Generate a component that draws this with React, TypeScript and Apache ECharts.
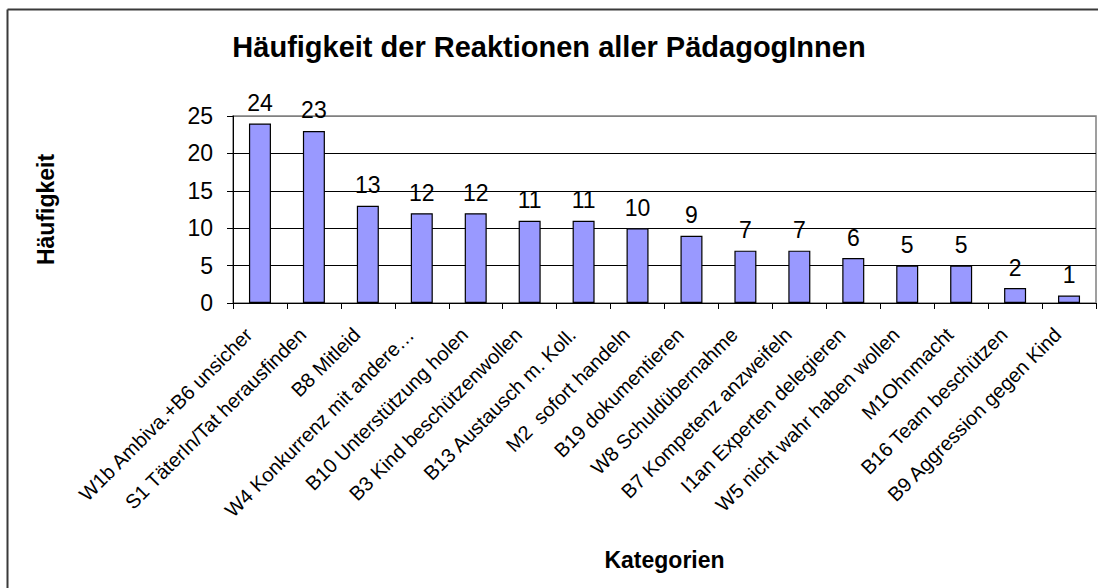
import React, { useEffect, useRef } from "react";
import * as echarts from "echarts";

const categories = [
  "W1b Ambiva.+B6 unsicher",
  "S1 TäterIn/Tat herausfinden",
  "B8 Mitleid",
  "W4 Konkurrenz mit andere…",
  "B10 Unterstützung holen",
  "B3 Kind beschützenwollen",
  "B13 Austausch m. Koll.",
  "M2  sofort handeln",
  "B19 dokumentieren",
  "W8 Schuldübernahme",
  "B7 Kompetenz anzweifeln",
  "I1an Experten delegieren",
  "W5 nicht wahr haben wollen",
  "M1Ohnmacht",
  "B16 Team beschützen",
  "B9 Aggression gegen Kind",
];

const values = [24, 23, 13, 12, 12, 11, 11, 10, 9, 7, 7, 6, 5, 5, 2, 1];

const yTicks = { min: 0, max: 25, interval: 5 };

const titleText = "Häufigkeit der Reaktionen aller PädagogInnen";
const yName = "Häufigkeit";
const xName = "Kategorien";

const FONT = "'Liberation Sans', Arial, sans-serif";

export default function App() {
  const ref = useRef<HTMLDivElement>(null);

  useEffect(() => {
    if (!ref.current) return;
    const chart = echarts.init(ref.current, undefined, { renderer: "svg" });
    chart.setOption({
      animation: false,
      backgroundColor: "#ffffff",
      textStyle: { fontFamily: FONT },
      title: {
        text: titleText,
        left: "center",
        top: 27,
        textStyle: { fontFamily: FONT, fontSize: 29, fontWeight: "bold", color: "#000" },
      },
      graphic: [
        {
          type: "line",
          shape: { x1: 7.5, y1: 9.5, x2: 1098, y2: 9.5 },
          style: { stroke: "#3a3a3a", lineWidth: 2 },
        },
        {
          type: "line",
          shape: { x1: 7.5, y1: 9.5, x2: 7.5, y2: 588 },
          style: { stroke: "#3a3a3a", lineWidth: 2 },
        },
      ],
      grid: {
        left: 233,
        right: 2,
        top: 116,
        bottom: 285,
        show: true,
        borderColor: "#808080",
        borderWidth: 1.5,
      },
      xAxis: {
        type: "category",
        data: categories,
        name: xName,
        nameLocation: "middle",
        nameGap: 245,
        nameTextStyle: { fontFamily: FONT, fontSize: 23, fontWeight: "bold", color: "#000" },
        axisLine: { lineStyle: { color: "#000", width: 1 } },
        axisTick: { show: true, length: 6, lineStyle: { color: "#000" } },
        axisLabel: {
          interval: 0,
          rotate: 45,
          margin: 17,
          padding: [0, 16, 0, 0],
          fontFamily: FONT,
          fontSize: 20,
          color: "#000",
        },
      },
      yAxis: {
        type: "value",
        min: yTicks.min,
        max: yTicks.max,
        interval: yTicks.interval,
        name: yName,
        nameLocation: "middle",
        nameRotate: 90,
        nameGap: 176,
        nameTextStyle: { fontFamily: FONT, fontSize: 23, fontWeight: "bold", color: "#000" },
        axisLine: { show: true, lineStyle: { color: "#000", width: 1 } },
        axisTick: { show: true, length: 6, lineStyle: { color: "#000" } },
        axisLabel: { margin: 20, fontFamily: FONT, fontSize: 23, color: "#000" },
        splitLine: {
          show: true,
          lineStyle: {
            color: ["#000", "#000", "#000", "#000", "#000", "#808080"],
            width: 1,
          },
        },
      },
      series: [
        {
          type: "bar",
          data: values,
          barWidth: 22,
          itemStyle: { color: "#9999FF", borderColor: "#000", borderWidth: 1.2 },
          label: {
            show: true,
            position: "top",
            distance: 9,
            fontFamily: FONT,
            fontSize: 23,
            color: "#000",
          },
        },
      ],
    });
    return () => chart.dispose();
  }, []);

  return (
    <div
      ref={ref}
      style={{ position: "absolute", left: 0, top: 0, width: 1098, height: 588 }}
    />
  );
}
